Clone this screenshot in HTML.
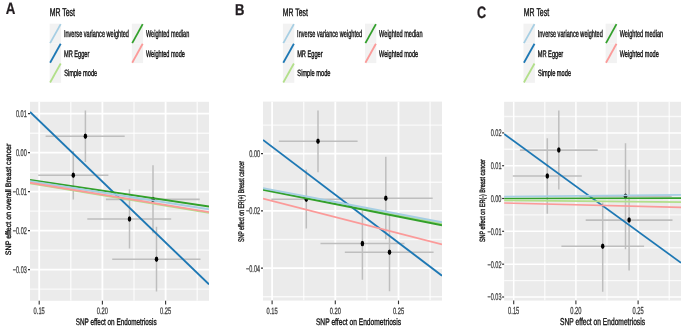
<!DOCTYPE html>
<html><head><meta charset="utf-8"><style>
html,body{margin:0;padding:0;background:#fff;width:685px;height:329px;overflow:hidden}
svg{display:block}
text{font-family:"Liberation Sans", sans-serif;text-rendering:geometricPrecision}
</style></head><body>
<svg width="685" height="329" viewBox="0 0 685 329" font-family='"Liberation Sans", sans-serif'><rect width="685" height="329" fill="#fff"/><defs><filter id="bl" x="-5%" y="-5%" width="110%" height="110%"><feGaussianBlur stdDeviation="0.45"/></filter></defs><g filter="url(#bl)"><text transform="translate(5.67,13.97) scale(0.13281,0.16449)" font-size="100" font-weight="bold" fill="#231f20" stroke="#231f20" stroke-width="1.52" stroke-linejoin="round">A</text><text transform="translate(235.08,14.85) scale(0.13035,0.15797)" font-size="100" font-weight="bold" fill="#231f20" stroke="#231f20" stroke-width="1.90" stroke-linejoin="round">B</text><text transform="translate(476.91,17.95) scale(0.12627,0.16522)" font-size="100" font-weight="bold" fill="#231f20" stroke="#231f20" stroke-width="1.82" stroke-linejoin="round">C</text><text transform="translate(49.76,15.50) scale(0.06901,0.11449)" font-size="100" font-weight="normal" fill="#111" stroke="#111" stroke-width="3.49" stroke-linejoin="round">MR Test</text><rect x="49.70" y="23.7" width="11.40" height="19.70" fill="#f2f2f2"/><rect x="49.70" y="43.4" width="11.40" height="19.70" fill="#f2f2f2"/><rect x="49.70" y="63.1" width="11.40" height="19.70" fill="#f2f2f2"/><line x1="50.10" y1="43.10" x2="60.70" y2="24.10" stroke="#a6cee3" stroke-width="1.8"/><text transform="translate(63.90,37.30) scale(0.05601,0.09855)" font-size="100" font-weight="normal" fill="#111" stroke="#111" stroke-width="4.06" stroke-linejoin="round">Inverse variance weighted</text><line x1="50.10" y1="62.80" x2="60.70" y2="43.80" stroke="#1f78b4" stroke-width="1.8"/><text transform="translate(63.96,56.70) scale(0.05646,0.09420)" font-size="100" font-weight="normal" fill="#111" stroke="#111" stroke-width="4.25" stroke-linejoin="round">MR Egger</text><line x1="50.10" y1="82.50" x2="60.70" y2="63.50" stroke="#b2df8a" stroke-width="1.8"/><text transform="translate(64.16,76.30) scale(0.05668,0.09130)" font-size="100" font-weight="normal" fill="#111" stroke="#111" stroke-width="4.38" stroke-linejoin="round">Simple mode</text><rect x="131.80" y="23.7" width="11.30" height="19.70" fill="#f2f2f2"/><rect x="131.80" y="43.4" width="11.30" height="19.70" fill="#f2f2f2"/><line x1="132.20" y1="43.10" x2="142.70" y2="24.10" stroke="#33a02c" stroke-width="1.8"/><text transform="translate(145.88,37.30) scale(0.05599,0.09855)" font-size="100" font-weight="normal" fill="#111" stroke="#111" stroke-width="4.06" stroke-linejoin="round">Weighted median</text><line x1="132.20" y1="62.80" x2="142.70" y2="43.80" stroke="#fb9a99" stroke-width="1.8"/><text transform="translate(145.88,56.70) scale(0.05591,0.09420)" font-size="100" font-weight="normal" fill="#111" stroke="#111" stroke-width="4.25" stroke-linejoin="round">Weighted mode</text><text transform="translate(282.87,15.90) scale(0.06843,0.11014)" font-size="100" font-weight="normal" fill="#111" stroke="#111" stroke-width="3.63" stroke-linejoin="round">MR Test</text><rect x="282.90" y="23.7" width="11.40" height="19.70" fill="#f2f2f2"/><rect x="282.90" y="43.4" width="11.40" height="19.70" fill="#f2f2f2"/><rect x="282.90" y="63.1" width="11.40" height="19.70" fill="#f2f2f2"/><line x1="283.30" y1="43.10" x2="293.90" y2="24.10" stroke="#a6cee3" stroke-width="1.8"/><text transform="translate(297.10,37.30) scale(0.05601,0.09855)" font-size="100" font-weight="normal" fill="#111" stroke="#111" stroke-width="4.06" stroke-linejoin="round">Inverse variance weighted</text><line x1="283.30" y1="62.80" x2="293.90" y2="43.80" stroke="#1f78b4" stroke-width="1.8"/><text transform="translate(297.16,56.70) scale(0.05646,0.09420)" font-size="100" font-weight="normal" fill="#111" stroke="#111" stroke-width="4.25" stroke-linejoin="round">MR Egger</text><line x1="283.30" y1="82.50" x2="293.90" y2="63.50" stroke="#b2df8a" stroke-width="1.8"/><text transform="translate(297.36,76.30) scale(0.05668,0.09130)" font-size="100" font-weight="normal" fill="#111" stroke="#111" stroke-width="4.38" stroke-linejoin="round">Simple mode</text><rect x="365.00" y="23.7" width="11.30" height="19.70" fill="#f2f2f2"/><rect x="365.00" y="43.4" width="11.30" height="19.70" fill="#f2f2f2"/><line x1="365.40" y1="43.10" x2="375.90" y2="24.10" stroke="#33a02c" stroke-width="1.8"/><text transform="translate(379.08,37.30) scale(0.05599,0.09855)" font-size="100" font-weight="normal" fill="#111" stroke="#111" stroke-width="4.06" stroke-linejoin="round">Weighted median</text><line x1="365.40" y1="62.80" x2="375.90" y2="43.80" stroke="#fb9a99" stroke-width="1.8"/><text transform="translate(379.08,56.70) scale(0.05591,0.09420)" font-size="100" font-weight="normal" fill="#111" stroke="#111" stroke-width="4.25" stroke-linejoin="round">Weighted mode</text><text transform="translate(523.76,15.90) scale(0.06957,0.11449)" font-size="100" font-weight="normal" fill="#111" stroke="#111" stroke-width="3.49" stroke-linejoin="round">MR Test</text><rect x="523.50" y="23.7" width="11.40" height="19.70" fill="#f2f2f2"/><rect x="523.50" y="43.4" width="11.40" height="19.70" fill="#f2f2f2"/><rect x="523.50" y="63.1" width="11.40" height="19.70" fill="#f2f2f2"/><line x1="523.90" y1="43.10" x2="534.50" y2="24.10" stroke="#a6cee3" stroke-width="1.8"/><text transform="translate(537.70,37.30) scale(0.05601,0.09855)" font-size="100" font-weight="normal" fill="#111" stroke="#111" stroke-width="4.06" stroke-linejoin="round">Inverse variance weighted</text><line x1="523.90" y1="62.80" x2="534.50" y2="43.80" stroke="#1f78b4" stroke-width="1.8"/><text transform="translate(537.76,56.70) scale(0.05646,0.09420)" font-size="100" font-weight="normal" fill="#111" stroke="#111" stroke-width="4.25" stroke-linejoin="round">MR Egger</text><line x1="523.90" y1="82.50" x2="534.50" y2="63.50" stroke="#b2df8a" stroke-width="1.8"/><text transform="translate(537.96,76.30) scale(0.05668,0.09130)" font-size="100" font-weight="normal" fill="#111" stroke="#111" stroke-width="4.38" stroke-linejoin="round">Simple mode</text><rect x="605.60" y="23.7" width="11.30" height="19.70" fill="#f2f2f2"/><rect x="605.60" y="43.4" width="11.30" height="19.70" fill="#f2f2f2"/><line x1="606.00" y1="43.10" x2="616.50" y2="24.10" stroke="#33a02c" stroke-width="1.8"/><text transform="translate(619.68,37.30) scale(0.05599,0.09855)" font-size="100" font-weight="normal" fill="#111" stroke="#111" stroke-width="4.06" stroke-linejoin="round">Weighted median</text><line x1="606.00" y1="62.80" x2="616.50" y2="43.80" stroke="#fb9a99" stroke-width="1.8"/><text transform="translate(619.68,56.70) scale(0.05591,0.09420)" font-size="100" font-weight="normal" fill="#111" stroke="#111" stroke-width="4.25" stroke-linejoin="round">Weighted mode</text><clipPath id="cA"><rect x="30" y="101.8" width="179.00" height="199.00"/></clipPath><rect x="30" y="101.8" width="179.00" height="199.00" fill="#ebebeb"/><g clip-path="url(#cA)"><line x1="7.6" y1="101.8" x2="7.6" y2="300.8" stroke="#fff" stroke-width="1.4" stroke-opacity="0.75"/><line x1="70.8" y1="101.8" x2="70.8" y2="300.8" stroke="#fff" stroke-width="1.4" stroke-opacity="0.75"/><line x1="134.0" y1="101.8" x2="134.0" y2="300.8" stroke="#fff" stroke-width="1.4" stroke-opacity="0.75"/><line x1="197.2" y1="101.8" x2="197.2" y2="300.8" stroke="#fff" stroke-width="1.4" stroke-opacity="0.75"/><line x1="30" y1="94.2" x2="209" y2="94.2" stroke="#fff" stroke-width="1.4" stroke-opacity="0.75"/><line x1="30" y1="133.2" x2="209" y2="133.2" stroke="#fff" stroke-width="1.4" stroke-opacity="0.75"/><line x1="30" y1="172.2" x2="209" y2="172.2" stroke="#fff" stroke-width="1.4" stroke-opacity="0.75"/><line x1="30" y1="211.1" x2="209" y2="211.1" stroke="#fff" stroke-width="1.4" stroke-opacity="0.75"/><line x1="30" y1="250.1" x2="209" y2="250.1" stroke="#fff" stroke-width="1.4" stroke-opacity="0.75"/><line x1="30" y1="289.1" x2="209" y2="289.1" stroke="#fff" stroke-width="1.4" stroke-opacity="0.75"/><line x1="39.2" y1="101.8" x2="39.2" y2="300.8" stroke="#fff" stroke-width="1.8"/><line x1="102.4" y1="101.8" x2="102.4" y2="300.8" stroke="#fff" stroke-width="1.8"/><line x1="165.6" y1="101.8" x2="165.6" y2="300.8" stroke="#fff" stroke-width="1.8"/><line x1="30" y1="113.7" x2="209" y2="113.7" stroke="#fff" stroke-width="1.8"/><line x1="30" y1="152.7" x2="209" y2="152.7" stroke="#fff" stroke-width="1.8"/><line x1="30" y1="191.6" x2="209" y2="191.6" stroke="#fff" stroke-width="1.8"/><line x1="30" y1="230.6" x2="209" y2="230.6" stroke="#fff" stroke-width="1.8"/><line x1="30" y1="269.6" x2="209" y2="269.6" stroke="#fff" stroke-width="1.8"/><line x1="85.4" y1="110.6" x2="85.4" y2="162.0" stroke="#bebebe" stroke-width="1.5"/><line x1="45.6" y1="136.2" x2="124.7" y2="136.2" stroke="#bebebe" stroke-width="1.6"/><line x1="73.3" y1="150.9" x2="73.3" y2="199.5" stroke="#bebebe" stroke-width="1.5"/><line x1="38.2" y1="175.2" x2="108.4" y2="175.2" stroke="#bebebe" stroke-width="1.6"/><line x1="129.5" y1="189.3" x2="129.5" y2="248.4" stroke="#bebebe" stroke-width="1.5"/><line x1="87.3" y1="219.0" x2="171.2" y2="219.0" stroke="#bebebe" stroke-width="1.6"/><line x1="153.0" y1="165.2" x2="153.0" y2="233.3" stroke="#bebebe" stroke-width="1.5"/><line x1="105.9" y1="199.4" x2="199.7" y2="199.4" stroke="#bebebe" stroke-width="1.6"/><line x1="156.5" y1="226.8" x2="156.5" y2="291.5" stroke="#bebebe" stroke-width="1.5"/><line x1="112.2" y1="259.3" x2="200.5" y2="259.3" stroke="#bebebe" stroke-width="1.6"/><ellipse cx="85.4" cy="136.2" rx="1.75" ry="2.75" fill="#000"/><ellipse cx="73.3" cy="175.2" rx="1.75" ry="2.75" fill="#000"/><ellipse cx="129.5" cy="219.0" rx="1.75" ry="2.75" fill="#000"/><ellipse cx="153.0" cy="199.4" rx="1.75" ry="2.75" fill="#000"/><ellipse cx="156.5" cy="259.3" rx="1.75" ry="2.75" fill="#000"/><line x1="30" y1="112.0" x2="209" y2="284.4" stroke="#1f78b4" stroke-width="1.9"/><line x1="30" y1="179.9" x2="209" y2="206.5" stroke="#33a02c" stroke-width="1.9"/><line x1="30" y1="181.3" x2="209" y2="209.3" stroke="#a6cee3" stroke-width="1.9"/><line x1="30" y1="183.4" x2="209" y2="212.8" stroke="#b2df8a" stroke-width="1.9"/><line x1="30" y1="182.7" x2="209" y2="212.1" stroke="#fb9a99" stroke-width="1.9"/></g><line x1="39.2" y1="300.8" x2="39.2" y2="304.40" stroke="#333" stroke-width="1.1"/><line x1="102.4" y1="300.8" x2="102.4" y2="304.40" stroke="#333" stroke-width="1.1"/><line x1="165.6" y1="300.8" x2="165.6" y2="304.40" stroke="#333" stroke-width="1.1"/><line x1="28.00" y1="113.7" x2="30" y2="113.7" stroke="#333" stroke-width="1.2"/><line x1="28.00" y1="152.7" x2="30" y2="152.7" stroke="#333" stroke-width="1.2"/><line x1="28.00" y1="191.6" x2="30" y2="191.6" stroke="#333" stroke-width="1.2"/><line x1="28.00" y1="230.6" x2="30" y2="230.6" stroke="#333" stroke-width="1.2"/><line x1="28.00" y1="269.6" x2="30" y2="269.6" stroke="#333" stroke-width="1.2"/><text transform="translate(33.61,313.95) scale(0.05749,0.09429)" font-size="100" font-weight="normal" fill="#444" stroke="#444" stroke-width="3.18" stroke-linejoin="round">0.15</text><text transform="translate(96.81,313.95) scale(0.05749,0.09429)" font-size="100" font-weight="normal" fill="#444" stroke="#444" stroke-width="3.18" stroke-linejoin="round">0.20</text><text transform="translate(160.01,313.95) scale(0.05749,0.09429)" font-size="100" font-weight="normal" fill="#444" stroke="#444" stroke-width="3.18" stroke-linejoin="round">0.25</text><text transform="translate(15.96,117.10) scale(0.05570,0.09714)" font-size="100" font-weight="normal" fill="#444" stroke="#444" stroke-width="3.09" stroke-linejoin="round">0.01</text><text transform="translate(15.96,156.10) scale(0.05541,0.09714)" font-size="100" font-weight="normal" fill="#444" stroke="#444" stroke-width="3.09" stroke-linejoin="round">0.00</text><text transform="translate(12.81,195.00) scale(0.05529,0.09714)" font-size="100" font-weight="normal" fill="#444" stroke="#444" stroke-width="3.09" stroke-linejoin="round">−0.01</text><text transform="translate(12.81,234.00) scale(0.05529,0.09714)" font-size="100" font-weight="normal" fill="#444" stroke="#444" stroke-width="3.09" stroke-linejoin="round">−0.02</text><text transform="translate(12.81,273.00) scale(0.05517,0.09714)" font-size="100" font-weight="normal" fill="#444" stroke="#444" stroke-width="3.09" stroke-linejoin="round">−0.03</text><text transform="translate(75.73,325.43) scale(0.06344,0.09348)" font-size="100" font-weight="normal" fill="#111" stroke="#111" stroke-width="3.74" stroke-linejoin="round">SNP effect on Endometriosis</text><text transform="translate(10.62,255.17) rotate(-90) scale(0.07052,0.07899)" font-size="100" fill="#111" stroke="#111" stroke-width="4.43" stroke-linejoin="round">SNP effect on overall Breast cancer</text><clipPath id="cB"><rect x="263" y="101.6" width="179.00" height="199.00"/></clipPath><rect x="263" y="101.6" width="179.00" height="199.00" fill="#ebebeb"/><g clip-path="url(#cB)"><line x1="240.5" y1="101.6" x2="240.5" y2="300.6" stroke="#fff" stroke-width="1.4" stroke-opacity="0.75"/><line x1="303.7" y1="101.6" x2="303.7" y2="300.6" stroke="#fff" stroke-width="1.4" stroke-opacity="0.75"/><line x1="366.9" y1="101.6" x2="366.9" y2="300.6" stroke="#fff" stroke-width="1.4" stroke-opacity="0.75"/><line x1="430.1" y1="101.6" x2="430.1" y2="300.6" stroke="#fff" stroke-width="1.4" stroke-opacity="0.75"/><line x1="263" y1="96.5" x2="442" y2="96.5" stroke="#fff" stroke-width="1.4" stroke-opacity="0.75"/><line x1="263" y1="125.1" x2="442" y2="125.1" stroke="#fff" stroke-width="1.4" stroke-opacity="0.75"/><line x1="263" y1="182.3" x2="442" y2="182.3" stroke="#fff" stroke-width="1.4" stroke-opacity="0.75"/><line x1="263" y1="239.5" x2="442" y2="239.5" stroke="#fff" stroke-width="1.4" stroke-opacity="0.75"/><line x1="263" y1="296.7" x2="442" y2="296.7" stroke="#fff" stroke-width="1.4" stroke-opacity="0.75"/><line x1="272.1" y1="101.6" x2="272.1" y2="300.6" stroke="#fff" stroke-width="1.8"/><line x1="335.3" y1="101.6" x2="335.3" y2="300.6" stroke="#fff" stroke-width="1.8"/><line x1="398.5" y1="101.6" x2="398.5" y2="300.6" stroke="#fff" stroke-width="1.8"/><line x1="263" y1="153.7" x2="442" y2="153.7" stroke="#fff" stroke-width="1.8"/><line x1="263" y1="210.9" x2="442" y2="210.9" stroke="#fff" stroke-width="1.8"/><line x1="263" y1="268.1" x2="442" y2="268.1" stroke="#fff" stroke-width="1.8"/><line x1="318.0" y1="110.6" x2="318.0" y2="172.3" stroke="#bebebe" stroke-width="1.5"/><line x1="278.8" y1="141.3" x2="357.6" y2="141.3" stroke="#bebebe" stroke-width="1.6"/><line x1="306.3" y1="169.5" x2="306.3" y2="228.5" stroke="#bebebe" stroke-width="1.5"/><line x1="271.3" y1="199.2" x2="341.4" y2="199.2" stroke="#bebebe" stroke-width="1.6"/><line x1="362.4" y1="210.6" x2="362.4" y2="279.7" stroke="#bebebe" stroke-width="1.5"/><line x1="320.5" y1="243.5" x2="404.5" y2="243.5" stroke="#bebebe" stroke-width="1.6"/><line x1="385.8" y1="156.8" x2="385.8" y2="239.3" stroke="#bebebe" stroke-width="1.5"/><line x1="338.9" y1="198.2" x2="432.7" y2="198.2" stroke="#bebebe" stroke-width="1.6"/><line x1="389.5" y1="213.5" x2="389.5" y2="291.2" stroke="#bebebe" stroke-width="1.5"/><line x1="344.8" y1="252.3" x2="433.6" y2="252.3" stroke="#bebebe" stroke-width="1.6"/><ellipse cx="318.0" cy="141.3" rx="1.75" ry="2.75" fill="#000"/><ellipse cx="306.3" cy="199.2" rx="1.75" ry="2.75" fill="#000"/><ellipse cx="362.4" cy="243.5" rx="1.75" ry="2.75" fill="#000"/><ellipse cx="385.8" cy="198.2" rx="1.75" ry="2.75" fill="#000"/><ellipse cx="389.5" cy="252.3" rx="1.75" ry="2.75" fill="#000"/><line x1="263" y1="189.0" x2="442" y2="223.7" stroke="#b2df8a" stroke-width="1.9"/><line x1="263" y1="139.9" x2="442" y2="275.8" stroke="#1f78b4" stroke-width="1.9"/><line x1="263" y1="189.8" x2="442" y2="225.3" stroke="#33a02c" stroke-width="1.9"/><line x1="263" y1="188.3" x2="442" y2="222.2" stroke="#a6cee3" stroke-width="1.9"/><line x1="263" y1="198.6" x2="442" y2="244.4" stroke="#fb9a99" stroke-width="1.9"/></g><line x1="272.1" y1="300.6" x2="272.1" y2="304.20" stroke="#333" stroke-width="1.1"/><line x1="335.3" y1="300.6" x2="335.3" y2="304.20" stroke="#333" stroke-width="1.1"/><line x1="398.5" y1="300.6" x2="398.5" y2="304.20" stroke="#333" stroke-width="1.1"/><line x1="261.00" y1="153.7" x2="263" y2="153.7" stroke="#333" stroke-width="1.2"/><line x1="261.00" y1="210.9" x2="263" y2="210.9" stroke="#333" stroke-width="1.2"/><line x1="261.00" y1="268.1" x2="263" y2="268.1" stroke="#333" stroke-width="1.2"/><text transform="translate(266.51,313.95) scale(0.05745,0.09000)" font-size="100" font-weight="normal" fill="#444" stroke="#444" stroke-width="3.33" stroke-linejoin="round">0.15</text><text transform="translate(329.71,313.95) scale(0.05745,0.09000)" font-size="100" font-weight="normal" fill="#444" stroke="#444" stroke-width="3.33" stroke-linejoin="round">0.20</text><text transform="translate(392.91,313.95) scale(0.05745,0.09000)" font-size="100" font-weight="normal" fill="#444" stroke="#444" stroke-width="3.33" stroke-linejoin="round">0.25</text><text transform="translate(249.26,157.10) scale(0.05541,0.09714)" font-size="100" font-weight="normal" fill="#444" stroke="#444" stroke-width="3.09" stroke-linejoin="round">0.00</text><text transform="translate(246.11,214.30) scale(0.05529,0.09714)" font-size="100" font-weight="normal" fill="#444" stroke="#444" stroke-width="3.09" stroke-linejoin="round">−0.02</text><text transform="translate(246.11,271.50) scale(0.05484,0.09714)" font-size="100" font-weight="normal" fill="#444" stroke="#444" stroke-width="3.09" stroke-linejoin="round">−0.04</text><text transform="translate(315.92,325.43) scale(0.06674,0.09348)" font-size="100" font-weight="normal" fill="#111" stroke="#111" stroke-width="3.74" stroke-linejoin="round">SNP effect on Endometriosis</text><text transform="translate(243.72,242.03) rotate(-90) scale(0.05221,0.08188)" font-size="100" fill="#111" stroke="#111" stroke-width="4.27" stroke-linejoin="round">SNP effect on ER(+) Breast cancer</text><clipPath id="cC"><rect x="504.1" y="101.8" width="176.90" height="198.80"/></clipPath><rect x="504.1" y="101.8" width="176.90" height="198.80" fill="#ebebeb"/><g clip-path="url(#cC)"><line x1="482.6" y1="101.8" x2="482.6" y2="300.6" stroke="#fff" stroke-width="1.4" stroke-opacity="0.75"/><line x1="544.8" y1="101.8" x2="544.8" y2="300.6" stroke="#fff" stroke-width="1.4" stroke-opacity="0.75"/><line x1="607.0" y1="101.8" x2="607.0" y2="300.6" stroke="#fff" stroke-width="1.4" stroke-opacity="0.75"/><line x1="669.2" y1="101.8" x2="669.2" y2="300.6" stroke="#fff" stroke-width="1.4" stroke-opacity="0.75"/><line x1="504.1" y1="116.5" x2="681" y2="116.5" stroke="#fff" stroke-width="1.4" stroke-opacity="0.75"/><line x1="504.1" y1="149.3" x2="681" y2="149.3" stroke="#fff" stroke-width="1.4" stroke-opacity="0.75"/><line x1="504.1" y1="182.1" x2="681" y2="182.1" stroke="#fff" stroke-width="1.4" stroke-opacity="0.75"/><line x1="504.1" y1="214.9" x2="681" y2="214.9" stroke="#fff" stroke-width="1.4" stroke-opacity="0.75"/><line x1="504.1" y1="247.7" x2="681" y2="247.7" stroke="#fff" stroke-width="1.4" stroke-opacity="0.75"/><line x1="504.1" y1="280.6" x2="681" y2="280.6" stroke="#fff" stroke-width="1.4" stroke-opacity="0.75"/><line x1="513.7" y1="101.8" x2="513.7" y2="300.6" stroke="#fff" stroke-width="1.5"/><line x1="575.9" y1="101.8" x2="575.9" y2="300.6" stroke="#fff" stroke-width="1.5"/><line x1="638.1" y1="101.8" x2="638.1" y2="300.6" stroke="#fff" stroke-width="1.5"/><line x1="504.1" y1="132.9" x2="681" y2="132.9" stroke="#fff" stroke-width="1.5"/><line x1="504.1" y1="165.7" x2="681" y2="165.7" stroke="#fff" stroke-width="1.5"/><line x1="504.1" y1="198.5" x2="681" y2="198.5" stroke="#fff" stroke-width="1.5"/><line x1="504.1" y1="231.3" x2="681" y2="231.3" stroke="#fff" stroke-width="1.5"/><line x1="504.1" y1="264.2" x2="681" y2="264.2" stroke="#fff" stroke-width="1.5"/><line x1="504.1" y1="297.0" x2="681" y2="297.0" stroke="#fff" stroke-width="1.5"/><line x1="558.8" y1="110.6" x2="558.8" y2="189.6" stroke="#bebebe" stroke-width="1.5"/><line x1="519.9" y1="150.1" x2="597.7" y2="150.1" stroke="#bebebe" stroke-width="1.6"/><line x1="547.3" y1="138.2" x2="547.3" y2="213.7" stroke="#bebebe" stroke-width="1.5"/><line x1="512.8" y1="176.0" x2="581.8" y2="176.0" stroke="#bebebe" stroke-width="1.6"/><line x1="602.7" y1="202.5" x2="602.7" y2="291.8" stroke="#bebebe" stroke-width="1.5"/><line x1="561.4" y1="246.2" x2="644.1" y2="246.2" stroke="#bebebe" stroke-width="1.6"/><line x1="625.5" y1="143.2" x2="625.5" y2="249.2" stroke="#bebebe" stroke-width="1.5"/><line x1="579.3" y1="196.2" x2="671.7" y2="196.2" stroke="#bebebe" stroke-width="1.6"/><line x1="629.1" y1="169.7" x2="629.1" y2="270.6" stroke="#bebebe" stroke-width="1.5"/><line x1="585.7" y1="220.1" x2="672.5" y2="220.1" stroke="#bebebe" stroke-width="1.6"/><ellipse cx="558.8" cy="150.1" rx="1.75" ry="2.75" fill="#000"/><ellipse cx="547.3" cy="176.0" rx="1.75" ry="2.75" fill="#000"/><ellipse cx="602.7" cy="246.2" rx="1.75" ry="2.75" fill="#000"/><ellipse cx="625.5" cy="196.2" rx="1.75" ry="2.75" fill="#000"/><ellipse cx="629.1" cy="220.1" rx="1.75" ry="2.75" fill="#000"/><line x1="504.1" y1="134.0" x2="681" y2="262.8" stroke="#1f78b4" stroke-width="1.7"/><line x1="504.1" y1="198.5" x2="681" y2="198.1" stroke="#33a02c" stroke-width="1.7"/><line x1="504.1" y1="196.7" x2="681" y2="194.9" stroke="#a6cee3" stroke-width="1.7"/><line x1="504.1" y1="200.3" x2="681" y2="202.1" stroke="#b2df8a" stroke-width="1.7"/><line x1="504.1" y1="203.0" x2="681" y2="207.3" stroke="#fb9a99" stroke-width="1.7"/></g><line x1="513.7" y1="300.6" x2="513.7" y2="304.20" stroke="#333" stroke-width="1.1"/><line x1="575.9" y1="300.6" x2="575.9" y2="304.20" stroke="#333" stroke-width="1.1"/><line x1="638.1" y1="300.6" x2="638.1" y2="304.20" stroke="#333" stroke-width="1.1"/><line x1="502.10" y1="132.9" x2="504.1" y2="132.9" stroke="#333" stroke-width="1.2"/><line x1="502.10" y1="165.7" x2="504.1" y2="165.7" stroke="#333" stroke-width="1.2"/><line x1="502.10" y1="198.5" x2="504.1" y2="198.5" stroke="#333" stroke-width="1.2"/><line x1="502.10" y1="231.3" x2="504.1" y2="231.3" stroke="#333" stroke-width="1.2"/><line x1="502.10" y1="264.2" x2="504.1" y2="264.2" stroke="#333" stroke-width="1.2"/><line x1="502.10" y1="297.0" x2="504.1" y2="297.0" stroke="#333" stroke-width="1.2"/><text transform="translate(508.10,313.75) scale(0.05756,0.10143)" font-size="100" font-weight="normal" fill="#444" stroke="#444" stroke-width="2.96" stroke-linejoin="round">0.15</text><text transform="translate(570.30,313.75) scale(0.05756,0.10143)" font-size="100" font-weight="normal" fill="#444" stroke="#444" stroke-width="2.96" stroke-linejoin="round">0.20</text><text transform="translate(632.50,313.75) scale(0.05756,0.10143)" font-size="100" font-weight="normal" fill="#444" stroke="#444" stroke-width="2.96" stroke-linejoin="round">0.25</text><text transform="translate(490.66,136.30) scale(0.05570,0.09714)" font-size="100" font-weight="normal" fill="#444" stroke="#444" stroke-width="3.09" stroke-linejoin="round">0.02</text><text transform="translate(490.66,169.10) scale(0.05570,0.09714)" font-size="100" font-weight="normal" fill="#444" stroke="#444" stroke-width="3.09" stroke-linejoin="round">0.01</text><text transform="translate(490.66,201.90) scale(0.05541,0.09714)" font-size="100" font-weight="normal" fill="#444" stroke="#444" stroke-width="3.09" stroke-linejoin="round">0.00</text><text transform="translate(487.51,234.70) scale(0.05529,0.09714)" font-size="100" font-weight="normal" fill="#444" stroke="#444" stroke-width="3.09" stroke-linejoin="round">−0.01</text><text transform="translate(487.51,267.60) scale(0.05529,0.09714)" font-size="100" font-weight="normal" fill="#444" stroke="#444" stroke-width="3.09" stroke-linejoin="round">−0.02</text><text transform="translate(487.51,300.40) scale(0.05517,0.09714)" font-size="100" font-weight="normal" fill="#444" stroke="#444" stroke-width="3.09" stroke-linejoin="round">−0.03</text><text transform="translate(560.11,325.43) scale(0.06660,0.09928)" font-size="100" font-weight="normal" fill="#111" stroke="#111" stroke-width="3.53" stroke-linejoin="round">SNP effect on Endometriosis</text><text transform="translate(485.43,242.03) rotate(-90) scale(0.05438,0.07754)" font-size="100" fill="#111" stroke="#111" stroke-width="4.51" stroke-linejoin="round">SNP effect on ER(-) Breast cancer</text></g></svg>
</body></html>
